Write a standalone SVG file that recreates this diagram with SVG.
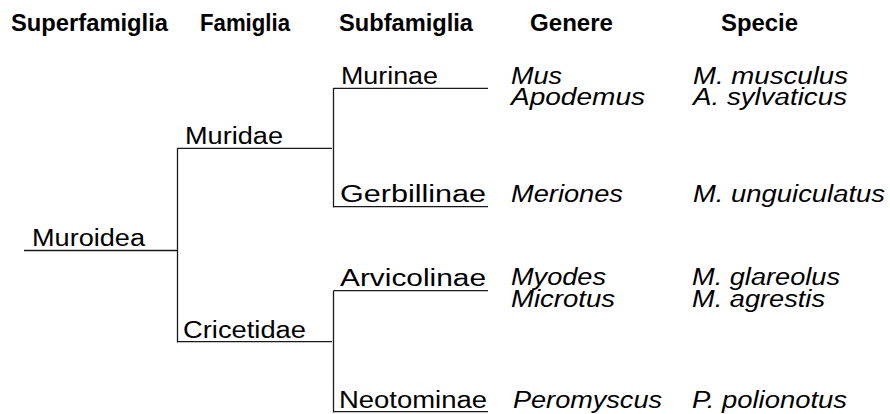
<svg xmlns="http://www.w3.org/2000/svg" width="890" height="414" viewBox="0 0 890 414">
<style>
.h{font-family:"Liberation Sans",Arial,sans-serif;font-weight:bold;font-size:23px;fill:#000}
.t{font-family:"Liberation Sans",Arial,sans-serif;font-size:23px;fill:#000}
.i{font-family:"Liberation Sans",Arial,sans-serif;font-style:italic;font-size:23px;fill:#000}
.c{stroke:#1a1a1a;stroke-width:1.3;fill:none}
</style>
<rect width="890" height="414" fill="#fff"/>
<g id="headers">
<text class="h" x="11" y="31" textLength="157" lengthAdjust="spacingAndGlyphs">Superfamiglia</text>
<text class="h" x="200" y="31" textLength="90" lengthAdjust="spacingAndGlyphs">Famiglia</text>
<text class="h" x="339" y="31" textLength="134" lengthAdjust="spacingAndGlyphs">Subfamiglia</text>
<text class="h" x="530" y="31" textLength="83" lengthAdjust="spacingAndGlyphs">Genere</text>
<text class="h" x="721" y="31" textLength="77" lengthAdjust="spacingAndGlyphs">Specie</text>
</g>
<g id="connectors">
<path class="c" d="M24,250.5H177.5M177.5,148V342.5M177.5,148.3H332M177.5,341.7H332"/>
<path class="c" d="M333.5,88V207.5M333.5,88.3H488M333.5,206.7H488"/>
<path class="c" d="M333.5,290.7V412.5M333.5,290.7H488M333.5,411.7H488"/>
</g>
<g id="muroidea"><text class="t" x="32" y="246" textLength="113" lengthAdjust="spacingAndGlyphs">Muroidea</text></g>
<g id="muridae"><text class="t" x="185" y="143.5" textLength="98" lengthAdjust="spacingAndGlyphs">Muridae</text></g>
<g id="cricetidae"><text class="t" x="183" y="338" textLength="123" lengthAdjust="spacingAndGlyphs">Cricetidae</text></g>
<g id="murinae">
<text class="t" x="341" y="83.5" textLength="97" lengthAdjust="spacingAndGlyphs">Murinae</text>
<text class="i" x="511" y="83.5" textLength="51" lengthAdjust="spacingAndGlyphs">Mus</text>
<text class="i" x="511" y="105" textLength="134" lengthAdjust="spacingAndGlyphs">Apodemus</text>
<text class="i" x="693" y="83.5" textLength="155" lengthAdjust="spacingAndGlyphs">M. musculus</text>
<text class="i" x="693" y="105" textLength="154" lengthAdjust="spacingAndGlyphs">A. sylvaticus</text>
</g>
<g id="gerbillinae">
<text class="t" x="340" y="202" textLength="146" lengthAdjust="spacingAndGlyphs">Gerbillinae</text>
<text class="i" x="511" y="202" textLength="112" lengthAdjust="spacingAndGlyphs">Meriones</text>
<text class="i" x="693" y="202" textLength="192" lengthAdjust="spacingAndGlyphs">M. unguiculatus</text>
</g>
<g id="arvicolinae">
<text class="t" x="340" y="286" textLength="146" lengthAdjust="spacingAndGlyphs">Arvicolinae</text>
<text class="i" x="511" y="284.5" textLength="95" lengthAdjust="spacingAndGlyphs">Myodes</text>
<text class="i" x="511" y="306.5" textLength="104" lengthAdjust="spacingAndGlyphs">Microtus</text>
<text class="i" x="692" y="284.5" textLength="148" lengthAdjust="spacingAndGlyphs">M. glareolus</text>
<text class="i" x="692" y="306.5" textLength="133" lengthAdjust="spacingAndGlyphs">M. agrestis</text>
</g>
<g id="neotominae">
<text class="t" x="339" y="408" textLength="148" lengthAdjust="spacingAndGlyphs">Neotominae</text>
<text class="i" x="513" y="408" textLength="149" lengthAdjust="spacingAndGlyphs">Peromyscus</text>
<text class="i" x="692" y="408" textLength="155" lengthAdjust="spacingAndGlyphs">P. polionotus</text>
</g>
</svg>
